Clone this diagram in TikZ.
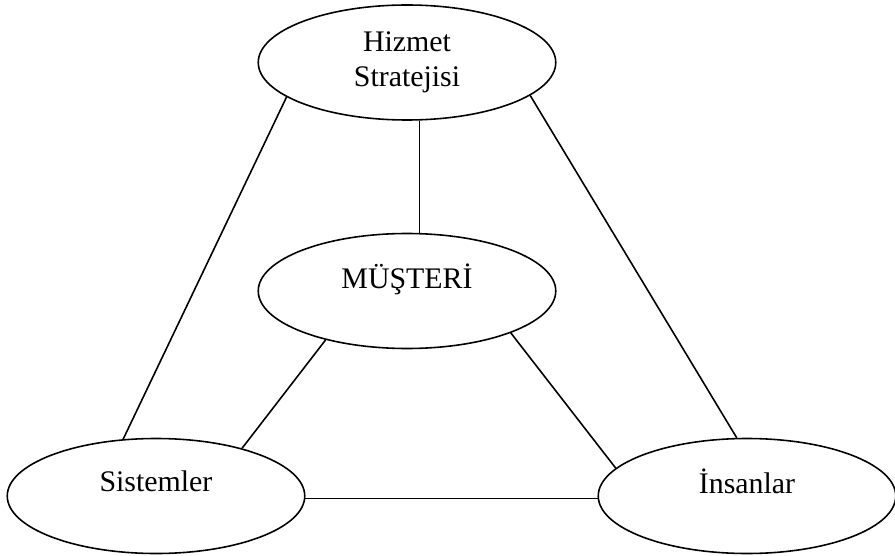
\documentclass[tikz,border=0pt]{standalone}
\usepackage{fontspec}
\setmainfont{Liberation Serif}
\usetikzlibrary{positioning}
\usetikzlibrary{shapes.geometric}
\tikzset{
    topic/.style = {ellipse, draw, minimum width=5.95cm, minimum height=2.3cm,
        font=\fontsize{17}{20}\selectfont},
    raised/.style = {text depth=0.6cm}}
\begin{document}
\begin{tikzpicture}[auto, node distance=1cm and 2cm, on grid, line width=0.9pt]
    \useasboundingbox (0,0) rectangle (17.9,-11.12);
    \node[topic, align=center] (H) at (8.14,-1.25) {Hizmet\\Stratejisi};
    \node[topic, raised] (M) [below = 4.57cm of H] {MÜŞTERİ};
    \node[topic, raised] (S) [below left = 4.1cm and 5.02cm of M] {Sistemler};
    \node[topic, raised] (I) [below right = 4.1cm and 6.8cm of M] {İnsanlar};
    \draw (H.282) -- (M.78);
    \draw (H.196) -- (S.120);
    \draw (H.345) -- (I.100);
    \draw (M.211) -- (S.29);
    \draw (M.338) -- (I.168);
    \draw (S.-1.5) -- (I.181.5);
\end{tikzpicture}
\end{document}
